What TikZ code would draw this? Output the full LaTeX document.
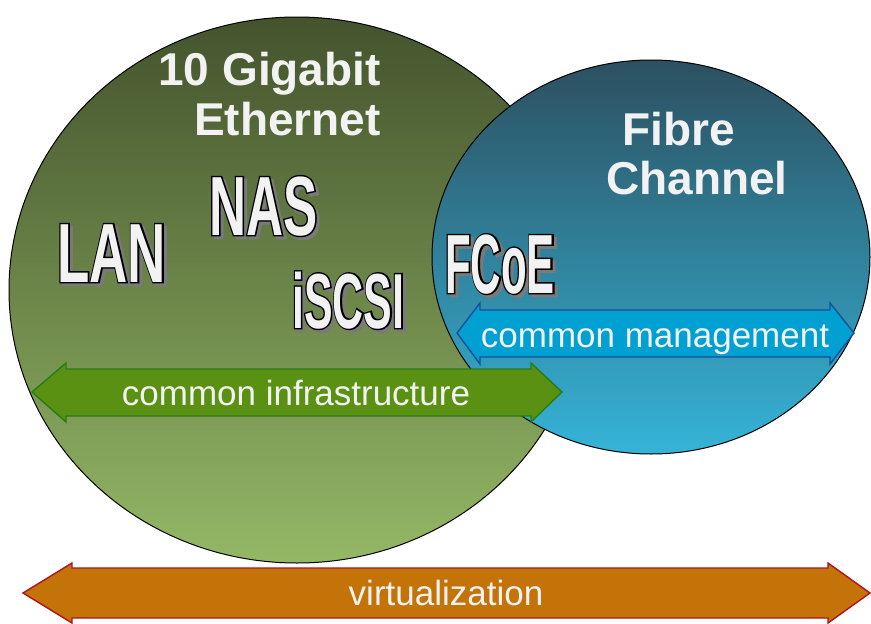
\documentclass[tikz,border=0pt]{standalone}
\usepackage{fontspec}
\setmainfont{Liberation Sans}
\newfontfamily\lanfont[FakeStretch=0.63]{Liberation Sans}
\newfontfamily\nasfont[FakeStretch=0.61]{Liberation Sans}
\newfontfamily\iscsifont[FakeStretch=0.55]{Liberation Sans}
\newfontfamily\fcoefont[FakeStretch=0.5]{Liberation Sans}
\definecolor{gtop}{HTML}{44532D}
\definecolor{gmid}{HTML}{6D8A47}
\definecolor{gbot}{HTML}{94B866}
\definecolor{btop}{HTML}{2C5060}
\definecolor{bmid}{HTML}{3290AA}
\definecolor{bbot}{HTML}{35B4D8}
\definecolor{infrafill}{HTML}{5A9113}
\definecolor{infradraw}{HTML}{2A7A1A}
\definecolor{mgmtfill}{HTML}{00A0D2}
\definecolor{mgmtdraw}{HTML}{1A4F9A}
\definecolor{virtfill}{HTML}{C47308}
\definecolor{virtdraw}{HTML}{B0141E}
\definecolor{lbl}{HTML}{F2F2F2}
\definecolor{wshadow}{HTML}{7A7A7A}
\newcommand\titlefont{\fontsize{46}{50}\selectfont\bfseries}
\newcommand\arrowfont{\fontsize{35}{40}\selectfont}
% fat text: fill and stroke in current colour
\newcommand\fattext[1]{\special{pdf:literal direct 2 Tr 2.8 w}#1\special{pdf:literal direct 0 Tr}}
\tikzset{
  circ/.style={draw=black, line width=1pt},
  titletext/.style={font=\titlefont, text=lbl, inner sep=0pt},
  arrowtext/.style={font=\arrowfont, text=lbl, inner sep=0pt, anchor=base},
  bigw/.style={inner sep=0pt, anchor=base west},
  arrowshape/.style={line width=1.4pt, line join=miter}
}
% #1 name, #2 x, #3 y, #4 font switch, #5 text
\newcommand\olword[5]{%
  \node[bigw, text=wshadow, font=#4] at (#2+3,#3+3) {\fattext{#5}};%
  \node[bigw, text=black, font=#4] at (#2,#3) {\fattext{#5}};%
  \node[bigw, text=lbl, font=#4] (#1) at (#2,#3) {#5};%
}
\begin{document}
\begin{tikzpicture}[x=1pt,y=-1pt]
\useasboundingbox (0,0) rectangle (871,624);
% circles
\shadedraw[circ, top color=gtop, middle color=gmid, bottom color=gbot]
  (297,290) ellipse [x radius=288pt, y radius=273pt];
\shadedraw[circ, top color=btop, middle color=bmid, bottom color=bbot]
  (651,257) ellipse [x radius=219pt, y radius=197pt];
% arrows
\filldraw[arrowshape, fill=mgmtfill, draw=mgmtdraw]
  (457,333) -- (480,303) -- (480,310) -- (830,310) -- (830,303) -- (854,333)
  -- (830,364) -- (830,357) -- (480,357) -- (480,364) -- cycle;
\filldraw[arrowshape, fill=infrafill, draw=infradraw]
  (32,392) -- (66,363) -- (66,369) -- (531,369) -- (531,363) -- (562,392)
  -- (531,422) -- (531,416) -- (66,416) -- (66,422) -- cycle;
\filldraw[arrowshape, fill=virtfill, draw=virtdraw]
  (23,593) -- (72,563) -- (72,568) -- (828,568) -- (828,563) -- (870,593)
  -- (828,623) -- (828,618) -- (72,618) -- (72,623) -- cycle;
% arrow labels
\node[arrowtext] (infra) at (296,405) {common infrastructure};
\node[arrowtext] (mgmt) at (655,347) {common management};
\node[arrowtext] (virt) at (446,605) {virtualization};
% titles
\node[titletext, anchor=base east] (ge1) at (381,85) {10 Gigabit};
\node[titletext, anchor=base east] (ge2) at (381,135) {Ethernet};
\node[titletext, anchor=base west] (fc1) at (622,145) {Fibre};
\node[titletext, anchor=base west] (fc2) at (606,194) {Channel};
% outlined words
\olword{lan}{57}{282}{\lanfont\bfseries\fontsize{84}{84}\selectfont}{LAN}
\olword{nas}{209}{235}{\nasfont\bfseries\fontsize{84}{84}\selectfont}{NAS}
\olword{iscsi}{292}{328}{\iscsifont\bfseries\fontsize{78}{78}\selectfont}{iSCSI}
\olword{fcoe}{445}{293}{\fcoefont\bfseries\fontsize{84}{84}\selectfont}{FCoE}
\end{tikzpicture}
\end{document}
